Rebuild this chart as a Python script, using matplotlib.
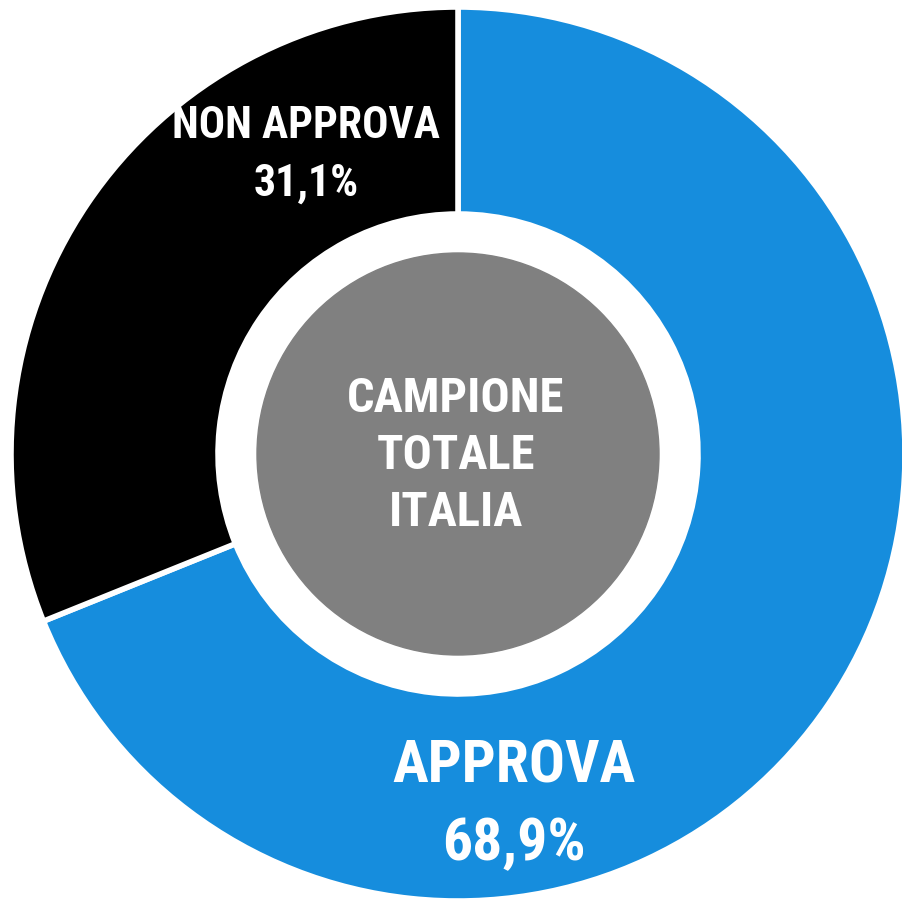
import matplotlib.pyplot as plt
from matplotlib import font_manager
from matplotlib.font_manager import FontProperties

# cerca un font condensato in grassetto
files = [f.fname for f in font_manager.fontManager.ttflist]
preferiti = ['RobotoCondensed-Bold', 'Roboto_Condensed-Bold', 'LiberationSansNarrow-Bold.',
             'OpenSans_Condensed-Bold', 'OpenSansCondensed-Bold', 'DejaVuSansCondensed-Bold.']
font_file = None
for p in preferiti:
    for f in files:
        if p in f:
            font_file = f
            break
    if font_file:
        break
if font_file:
    fp = FontProperties(fname=font_file)
else:
    fp = FontProperties(family='Roboto', weight='bold')

# dati
categorie = ['APPROVA', 'NON APPROVA']
valori = [68.9, 31.1]
etichette = ['68,9%', '31,1%']
colori = ['#168ddd', '#000000']
centro_testo = 'CAMPIONE\nTOTALE\nITALIA'

fig = plt.figure(figsize=(9.02, 9.03), dpi=100)
ax = fig.add_axes([0, 0, 1, 1])

cx, cy = 458, 903 - 455
R = 447
ax.pie(valori, colors=colori, startangle=90, counterclock=False,
       center=(cx, cy), radius=R,
       wedgeprops=dict(width=R - 240, edgecolor='white', linewidth=4))

ax.add_patch(plt.Circle((cx, cy), 201, color='#808080', zorder=3))

ax.set_xlim(0, 902)
ax.set_ylim(0, 903)
ax.set_aspect('equal')
ax.axis('off')

# etichette
fp1 = fp.copy(); fp1.set_size(31.5)
fp2 = fp.copy(); fp2.set_size(43)
fp3 = fp.copy(); fp3.set_size(35)
ax.text(306, 903 - 126, categorie[1], color='white', fontproperties=fp1,
        ha='center', va='center')
ax.text(306, 903 - 184, etichette[1], color='white', fontproperties=fp1,
        ha='center', va='center')
ax.text(514, 903 - 767, categorie[0], color='white', fontproperties=fp2,
        ha='center', va='center')
ax.text(514, 903 - 844, etichette[0], color='white', fontproperties=fp2,
        ha='center', va='center')
ax.text(cx - 2, 903 - 456, centro_testo, color='white', fontproperties=fp3,
        ha='center', va='center', linespacing=1.3, zorder=4)

fig.savefig('out.png', dpi=100)
